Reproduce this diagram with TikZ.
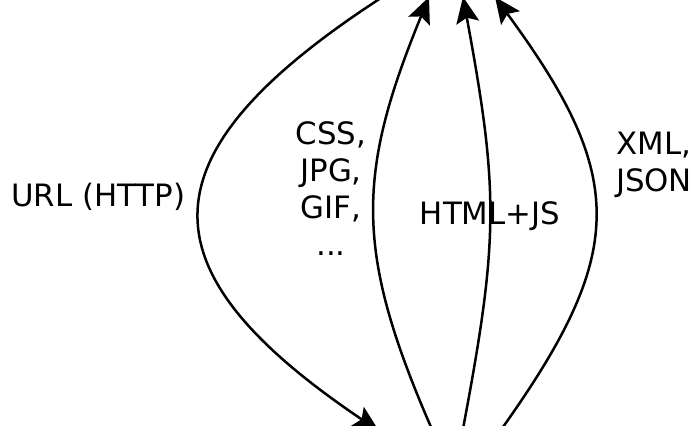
\documentclass[tikz,border=0pt]{standalone}
\usepackage{fontspec}
\setmainfont{DejaVu Sans}
\usepackage{tikz}
\usetikzlibrary{arrows.meta}

\newcommand\lblsize{\fontsize{15.4}{18.5}\selectfont}

\begin{document}
\begin{tikzpicture}[
  x=0.5pt, y=-0.5pt, >={Stealth[length=13pt,width=11.5pt,inset=2.5pt]},
  flow/.style={->, line width=1.25pt},
  lbl/.style={font=\lblsize, align=center, inner sep=0pt, anchor=base}]
  \useasboundingbox (0,0) rectangle (699,426);
  % ends of the arrows (the two boxes lie outside the frame)
  \coordinate (srv1) at (384,-4);
  \coordinate (srv2) at (429,-3);
  \coordinate (srv3) at (463,-3);
  \coordinate (srv4) at (495,-3);
  \coordinate (brw1) at (379,431);
  \coordinate (brw2) at (434,434);
  \coordinate (brw3) at (462,434);
  \coordinate (brw4) at (498,434);
  \node[lbl, anchor=base west] (url) at (11,207) {URL (HTTP)};
  \node[lbl] (res) at (331,256) {CSS,\\JPG,\\GIF,\\...};
  \node[lbl] (html) at (490,225) {HTML+JS};
  \node[lbl] (data) at (654,192) {XML,\\JSON};
  \draw[flow] (srv1) .. controls (138,155) and (140,270) .. (brw1);
  \draw[flow] (brw2) .. controls (355,254) and (355,177) .. (srv2);
  \draw[flow] (brw3) .. controls (499,239) and (499,192) .. (srv3);
  \draw[flow] (brw4) .. controls (628,253) and (628,178) .. (srv4);
\end{tikzpicture}
\end{document}
